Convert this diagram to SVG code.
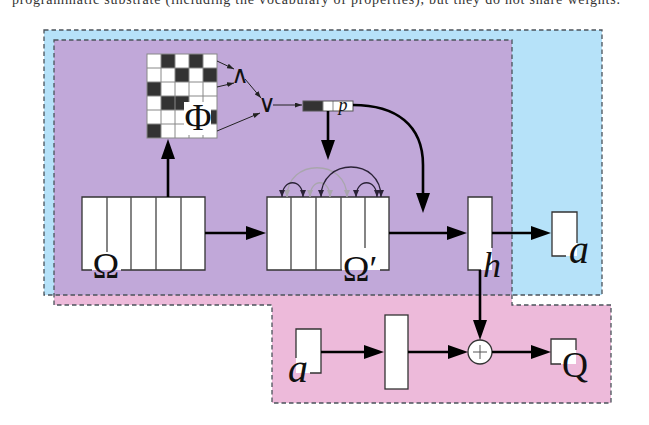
<svg xmlns="http://www.w3.org/2000/svg" width="649" height="425" viewBox="0 0 649 425">
<style>
.cap{font-family:"Liberation Serif","DejaVu Serif",serif;font-size:14px;fill:#333}
.m{font-family:"Liberation Serif","DejaVu Serif",serif;fill:#111}
.mi{font-family:"Liberation Serif","DejaVu Serif",serif;font-style:italic;fill:#111}
.sym{font-family:"DejaVu Serif",serif;fill:#111}
.box{fill:#fff;stroke:none}
.edge{fill:none;stroke:#333;stroke-width:1.3}
.div{fill:none;stroke:#444;stroke-width:1.3}
.thick{fill:none;stroke:#000;stroke-width:2.6;marker-end:url(#big)}
.thin{fill:none;stroke:#222;stroke-width:1;marker-end:url(#sm)}
.arcd{fill:none;stroke:#2a2236;stroke-width:1.3;marker-start:url(#ad);marker-end:url(#ad)}
.arcg{fill:none;stroke:#a9a6ad;stroke-width:1.3;marker-start:url(#ag);marker-end:url(#ag)}
.dash{fill:none;stroke:#4b535b;stroke-width:1.3;stroke-dasharray:4.5 3}
.blk{fill:#333}
.gl{stroke:#888;stroke-width:1;fill:none}
</style>
<defs>
<marker id="big" markerUnits="userSpaceOnUse" viewBox="0 0 20 14" markerWidth="20" markerHeight="14" refX="10" refY="7" orient="auto"><path d="M0,0 L20,7 L0,14 Z" fill="#000"/></marker>
<marker id="sm" markerUnits="userSpaceOnUse" viewBox="0 0 7 5" markerWidth="7" markerHeight="5" refX="7" refY="2.5" orient="auto"><path d="M0,0 L7,2.5 L0,5 Z" fill="#222"/></marker>
<marker id="ad" markerUnits="userSpaceOnUse" viewBox="0 0 7 6" markerWidth="7" markerHeight="6" refX="7" refY="3" orient="auto-start-reverse"><path d="M0,0 L7,3 L0,6 Z" fill="#2a2236"/></marker>
<marker id="ag" markerUnits="userSpaceOnUse" viewBox="0 0 7 6" markerWidth="7" markerHeight="6" refX="7" refY="3" orient="auto-start-reverse"><path d="M0,0 L7,3 L0,6 Z" fill="#a9a6ad"/></marker>
</defs>
<rect width="649" height="425" fill="#fff"/>
<text class="cap" x="12" y="4" textLength="608" lengthAdjust="spacing">programmatic substrate (including the vocabulary of properties), but they do not share weights.</text>

<g id="regions">
<rect x="44" y="30" width="558" height="265" fill="#b6e2f9"/>
<path d="M54,40 L512,40 L512,305 L611,305 L611,403 L272,403 L272,305 L54,305 Z" fill="#edbada"/>
<rect x="54" y="40" width="458" height="255" fill="#c1a8d9"/>
<rect class="dash" x="44" y="30" width="558" height="265"/>
<path class="dash" d="M54,40 L512,40 L512,305 L611,305 L611,403 L272,403 L272,305 L54,305 Z"/>
</g>

<g id="grid-phi">
<rect x="147" y="54" width="70" height="84" fill="#fff"/>
<rect class="blk" x="161" y="54" width="14" height="14"/>
<rect class="blk" x="189" y="54" width="14" height="14"/>
<rect class="blk" x="175" y="68" width="14" height="14"/>
<rect class="blk" x="203" y="68" width="14" height="14"/>
<rect class="blk" x="147" y="82" width="14" height="14"/>
<rect class="blk" x="161" y="96" width="14" height="14"/>
<rect class="blk" x="175" y="96" width="14" height="14"/>
<rect class="blk" x="203" y="110" width="14" height="14"/>
<rect class="blk" x="147" y="124" width="14" height="14"/>
<path class="gl" d="M161,54V138M175,54V138M189,54V138M203,54V138M147,68H217M147,82H217M147,96H217M147,110H217M147,124H217"/>
<rect class="gl" x="147" y="54" width="70" height="84"/>
<rect x="184" y="102" width="27" height="33" fill="#fff"/>
<text class="m" x="198" y="130" font-size="37" text-anchor="middle">Φ</text>
</g>

<g id="and">
<text class="sym" x="240" y="83" font-size="24" text-anchor="middle">∧</text>
</g>
<g id="or">
<text class="sym" x="267" y="112" font-size="24" text-anchor="middle">∨</text>
</g>

<g id="p-vector">
<rect x="303" y="101" width="50" height="10" fill="#fff"/>
<rect class="blk" x="303" y="101" width="10" height="10"/>
<rect class="blk" x="313" y="101" width="10" height="10"/>
<path class="gl" d="M323,101V111M333,101V111"/>
<rect x="303" y="101" width="50" height="10" fill="none" stroke="#555" stroke-width="1"/>
<rect x="335" y="102" width="16" height="8" fill="#fff"/>
<text class="mi" x="343" y="111" font-size="18" text-anchor="middle">p</text>
</g>

<g id="omega">
<rect class="box" x="82" y="197" width="123" height="73"/>
<path class="edge" d="M92,270 H82 V197 H205 V270 H121"/>
<path class="div" d="M107,197V252M131,197V270M156,197V270M181,197V270"/>
<text class="m" x="106" y="278" font-size="36" text-anchor="middle">Ω</text>
</g>

<g id="omega-prime">
<rect class="box" x="267" y="197" width="122" height="73"/>
<path class="edge" d="M342,270 H267 V197 H389 V270 H380"/>
<path class="div" d="M291,197V270M316,197V270M341,197V270M365,197V248"/>
<text class="m" x="360" y="281" font-size="36" text-anchor="middle">Ω′</text>
</g>

<g id="h">
<rect class="box" x="468" y="197" width="24" height="73"/>
<path class="edge" d="M481,270 H468 V197 H492 V248"/>
<text class="mi" x="492" y="277" font-size="36" text-anchor="middle">h</text>
</g>

<g id="a-out">
<rect class="box" x="552" y="212" width="25" height="44"/>
<path class="edge" d="M566,256 H552 V212 H577 V243"/>
<text class="mi" x="579" y="263" font-size="40" text-anchor="middle">a</text>
</g>

<g id="a-in">
<rect class="box" x="296" y="329" width="25" height="44"/>
<path class="edge" d="M296,358 V329 H321 V373 H310"/>
<text class="mi" x="298" y="382" font-size="40" text-anchor="middle">a</text>
</g>

<g id="mid">
<rect x="385" y="315" width="23" height="74" fill="#fff" stroke="#333" stroke-width="1.3"/>
</g>

<g id="plus">
<circle cx="480" cy="352" r="12" fill="#fff" stroke="#333" stroke-width="1.3"/>
<path d="M473,352H487M480,345V359" stroke="#555" stroke-width="1"/>
</g>

<g id="q">
<rect class="box" x="551" y="339" width="25" height="25"/>
<path class="edge" d="M561,364 H551 V339 H576 V350"/>
<text class="m" x="575" y="377" font-size="36" text-anchor="middle">Q</text>
</g>

<g id="connectors">
<path class="thin" d="M217,61 L234,69"/>
<path class="thin" d="M217,87 L234,83"/>
<path class="thin" d="M245,79 L261,98"/>
<path class="thin" d="M217,131 L260,113"/>
<path class="thin" d="M273,105 L302,105"/>
<path class="arcg" d="M287,197 C287,158 347,158 347,197"/>
<path class="arcg" d="M310,197 C310,178 330,178 330,197"/>
<path class="arcd" d="M282,197 C282,178 303,178 303,197"/>
<path class="arcd" d="M321,197 C321,157 381,157 381,197"/>
<path class="arcd" d="M356,197 C356,178 377,178 377,197"/>
<path class="thick" d="M168,197 V149"/>
<path class="thick" d="M205,233 H256"/>
<path class="thick" d="M328,111 V150"/>
<path class="thick" d="M353,105 C396,105 423,125 423,165 V203"/>
<path class="thick" d="M389,233 H457"/>
<path class="thick" d="M492,233 H541"/>
<path class="thick" d="M480,270 V330"/>
<path class="thick" d="M321,352 H374"/>
<path class="thick" d="M408,352 H458"/>
<path class="thick" d="M492,352 H541"/>
</g>
</svg>
